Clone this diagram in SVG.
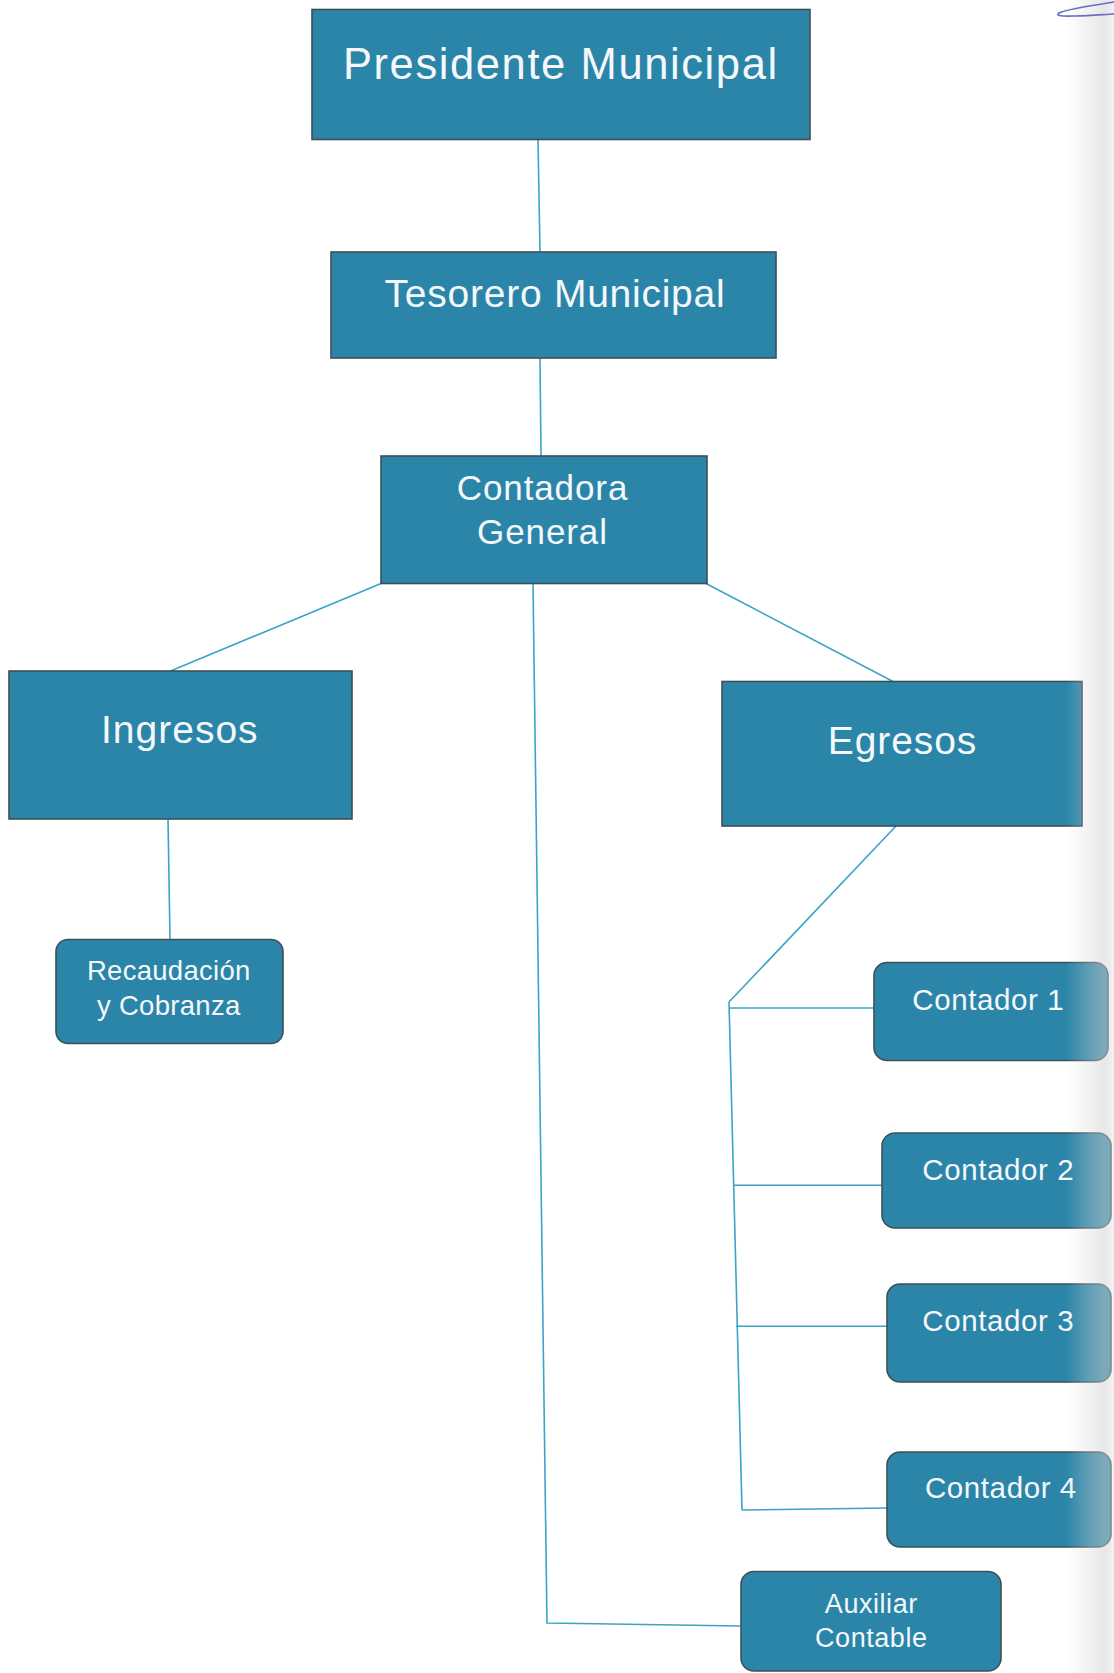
<svg xmlns="http://www.w3.org/2000/svg" width="1114" height="1673" viewBox="0 0 1114 1673">
<defs>
<style>
.box{fill:#2b85a8;stroke:#3e4f57;stroke-width:1.6}
.t{fill:#f4f8fa;font-family:"Liberation Sans",Arial,sans-serif;text-anchor:middle}
.c{fill:none;stroke:#3aa4c7;stroke-width:1.6}
</style>
<linearGradient id="edge" x1="0" y1="0" x2="1" y2="0">
<stop offset="0" stop-color="#d6d6d6" stop-opacity="0"/>
<stop offset="0.45" stop-color="#d6d6d6" stop-opacity="0.3"/>
<stop offset="0.8" stop-color="#cfcfcf" stop-opacity="0.5"/>
<stop offset="1" stop-color="#dcdcdc" stop-opacity="0.4"/>
</linearGradient>
</defs>
<rect x="0" y="0" width="1114" height="1673" fill="#ffffff"/>
<g id="connectors" class="c">
<path d="M538 139.5 L540 252"/>
<path d="M540 358 L541 456"/>
<path d="M381 583.5 L170.5 671"/>
<path d="M706 583.5 L893 681.5"/>
<path d="M533 583.5 L547 1623 L741 1626"/>
<path d="M168 819 L170 939.5"/>
<path d="M896 826 L729 1002"/>
<path d="M729 1002 L742 1510"/>
<path d="M729 1008 L874 1008"/>
<path d="M733.5 1185.3 L882 1185.3"/>
<path d="M736 1326.3 L887 1326.3"/>
<path d="M742 1510 L887 1508"/>
</g>
<g id="presidente">
<rect class="box" x="312" y="9.5" width="498" height="130"/>
<text class="t" x="560.8" y="79" font-size="43.5" letter-spacing="1.6">Presidente Municipal</text>
</g>
<g id="tesorero">
<rect class="box" x="331" y="252" width="445" height="106"/>
<text class="t" x="555" y="307" font-size="39" letter-spacing="0.75">Tesorero Municipal</text>
</g>
<g id="contadora">
<rect class="box" x="381" y="456" width="326" height="127.5"/>
<text class="t" x="542.5" y="500" font-size="35" letter-spacing="0.9">Contadora</text>
<text class="t" x="542.5" y="544" font-size="35" letter-spacing="0.9">General</text>
</g>
<g id="ingresos">
<rect class="box" x="9" y="671" width="343" height="148"/>
<text class="t" x="179.8" y="743" font-size="39" letter-spacing="1">Ingresos</text>
</g>
<g id="egresos">
<rect class="box" x="722" y="681.5" width="360" height="144.5"/>
<text class="t" x="902.5" y="753.6" font-size="39" letter-spacing="0.9">Egresos</text>
</g>
<g id="recaudacion">
<rect class="box" x="56" y="939.5" width="227" height="104" rx="12"/>
<text class="t" x="168.8" y="980.3" font-size="27.5" letter-spacing="0.3">Recaudación</text>
<text class="t" x="168.8" y="1015.4" font-size="27.5" letter-spacing="0.3">y Cobranza</text>
</g>
<g id="contador1">
<rect class="box" x="874" y="962.5" width="234" height="98" rx="13"/>
<text class="t" x="988.3" y="1010" font-size="29.5" letter-spacing="0.6">Contador 1</text>
</g>
<g id="contador2">
<rect class="box" x="882" y="1133" width="229" height="95" rx="13"/>
<text class="t" x="998.3" y="1180" font-size="29.5" letter-spacing="0.6">Contador 2</text>
</g>
<g id="contador3">
<rect class="box" x="887" y="1284" width="224" height="98" rx="13"/>
<text class="t" x="998.3" y="1331" font-size="29.5" letter-spacing="0.6">Contador 3</text>
</g>
<g id="contador4">
<rect class="box" x="887" y="1452" width="224" height="95" rx="13"/>
<text class="t" x="1000.9" y="1498" font-size="29.5" letter-spacing="0.6">Contador 4</text>
</g>
<g id="auxiliar">
<rect class="box" x="741" y="1571.5" width="260" height="99.5" rx="13"/>
<text class="t" x="871.3" y="1612.6" font-size="27" letter-spacing="0.55">Auxiliar</text>
<text class="t" x="871.3" y="1647" font-size="27" letter-spacing="0.55">Contable</text>
</g>
<rect x="1066" y="0" width="48" height="1673" fill="url(#edge)"/>
<path d="M1114 2 C1090 6 1066 9 1059 13 C1055 16 1062 16.5 1075 16 C1090 15.5 1104 14.5 1114 14" fill="none" stroke="#6670c4" stroke-width="1.6"/>
</svg>
